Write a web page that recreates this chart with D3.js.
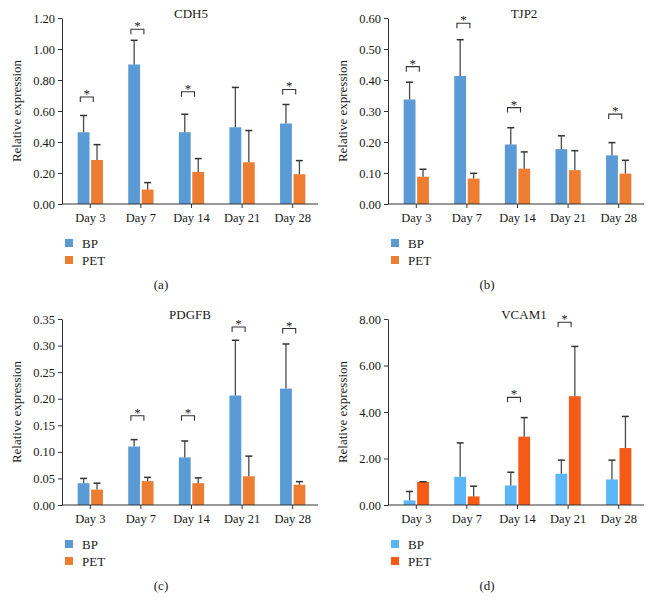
<!DOCTYPE html>
<html><head><meta charset="utf-8">
<script src="https://cdn.jsdelivr.net/npm/d3@7"></script>
<style>
body{margin:0;background:#fff}
svg text{font-family:"Liberation Serif","Times New Roman",serif;fill:#1a1a1a}
</style>
</head><body>
<svg id="chart" width="652" height="614"></svg>
<script>
// ---------- data ----------
const days = ["Day 3", "Day 7", "Day 14", "Day 21", "Day 28"];
const groups = ["BP", "PET"];

const cdh5BP    = [0.463, 0.900, 0.463, 0.495, 0.519];
const cdh5BPSd  = [0.108, 0.156, 0.116, 0.257, 0.123];
const cdh5PET   = [0.284, 0.093, 0.207, 0.269, 0.192];
const cdh5PETSd = [0.099, 0.045, 0.086, 0.205, 0.088];
const cdh5Sig   = [0.69, 1.127, 0.724, null, 0.739];
const cdh5Ticks = [0, 0.2, 0.4, 0.6, 0.8, 1.0, 1.2];

const tjp2BP    = [0.337, 0.413, 0.192, 0.177, 0.157];
const tjp2BPSd  = [0.056, 0.117, 0.054, 0.043, 0.041];
const tjp2PET   = [0.088, 0.082, 0.114, 0.109, 0.098];
const tjp2PETSd = [0.024, 0.017, 0.054, 0.063, 0.043];
const tjp2Sig   = [0.443, 0.583, 0.311, null, 0.290];
const tjp2Ticks = [0, 0.1, 0.2, 0.3, 0.4, 0.5, 0.6];

const pdgfbBP    = [0.041, 0.110, 0.0895, 0.206, 0.219];
const pdgfbBPSd  = [0.009, 0.013, 0.031, 0.104, 0.084];
const pdgfbPET   = [0.029, 0.045, 0.041, 0.054, 0.038];
const pdgfbPETSd = [0.012, 0.007, 0.010, 0.038, 0.006];
const pdgfbSig   = [null, 0.168, 0.168, 0.335, 0.332];
const pdgfbTicks = [0, 0.05, 0.10, 0.15, 0.20, 0.25, 0.30, 0.35];

const vcam1BP    = [0.20, 1.21, 0.84, 1.34, 1.10];
const vcam1BPSd  = [0.38, 1.46, 0.57, 0.59, 0.83];
const vcam1PET   = [0.99, 0.37, 2.94, 4.68, 2.45];
const vcam1PETSd = [0.01, 0.44, 0.82, 2.14, 1.36];
const vcam1Sig   = [null, null, 4.63, 7.86, null];
const vcam1Ticks = [0, 2, 4, 6, 8];

const colorsStd = ["#5B9BD5", "#ED7D31"];
const colorsVcam = ["#5AB6F6", "#F65A17"];

const panels = [
  {title: "CDH5", tag: "(a)", bp: cdh5BP, bpSd: cdh5BPSd, pet: cdh5PET, petSd: cdh5PETSd, sig: cdh5Sig, ticks: cdh5Ticks, fmt: ".2f", colors: colorsStd, ox: 0, oy: 0, tx: 191},
  {title: "TJP2", tag: "(b)", bp: tjp2BP, bpSd: tjp2BPSd, pet: tjp2PET, petSd: tjp2PETSd, sig: tjp2Sig, ticks: tjp2Ticks, fmt: ".2f", colors: colorsStd, ox: 326, oy: 0, tx: 198},
  {title: "PDGFB", tag: "(c)", bp: pdgfbBP, bpSd: pdgfbBPSd, pet: pdgfbPET, petSd: pdgfbPETSd, sig: pdgfbSig, ticks: pdgfbTicks, fmt: ".2f", colors: colorsStd, ox: 0, oy: 301, tx: 190},
  {title: "VCAM1", tag: "(d)", bp: vcam1BP, bpSd: vcam1BPSd, pet: vcam1PET, petSd: vcam1PETSd, sig: vcam1Sig, ticks: vcam1Ticks, fmt: ".2f", colors: colorsVcam, ox: 326, oy: 301, tx: 198}
];

// ---------- layout ----------
const L = {axisX: 62, x0: 65, x1: 318, top: 18, bottom: 204};
const svg = d3.select("#chart");
const FS = 12.5;

panels.forEach(p => {
  const g = svg.append("g").attr("transform", `translate(${p.ox},${p.oy})`);
  const x = d3.scaleBand().domain(days).range([L.x0, L.x1]).paddingInner(0.5).paddingOuter(0.25);
  const xs = d3.scaleBand().domain(groups).range([0, x.bandwidth()]).paddingInner(0.12);
  const ymax = p.ticks[p.ticks.length - 1];
  const y = d3.scaleLinear().domain([0, ymax]).range([L.bottom, L.top]);
  const color = d3.scaleOrdinal().domain(groups).range(p.colors);

  // y axis
  const ya = g.append("g").attr("transform", `translate(${L.axisX},0)`)
    .call(d3.axisLeft(y).tickValues(p.ticks).tickFormat(d3.format(p.fmt)).tickSize(4).tickSizeOuter(0).tickPadding(3));
  ya.selectAll("text").style("font-size", FS + "px");
  ya.selectAll("line,path").attr("stroke", "#333");

  // bars
  const rows = days.map((d, i) => ({day: d, i,
    vals: [{k: "BP", v: p.bp[i], sd: p.bpSd[i]}, {k: "PET", v: p.pet[i], sd: p.petSd[i]}]}));
  const grp = g.selectAll(".grp").data(rows).join("g").attr("transform", d => `translate(${x(d.day)},0)`);
  grp.selectAll("rect").data(d => d.vals).join("rect")
    .attr("x", d => xs(d.k)).attr("width", xs.bandwidth())
    .attr("y", d => y(d.v)).attr("height", d => y(0) - y(d.v))
    .attr("fill", d => color(d.k));
  // error bars (upper only)
  const eb = grp.selectAll(".eb").data(d => d.vals).join("g");
  eb.append("line")
    .attr("x1", d => xs(d.k) + xs.bandwidth() / 2).attr("x2", d => xs(d.k) + xs.bandwidth() / 2)
    .attr("y1", d => y(d.v)).attr("y2", d => y(d.v + d.sd))
    .attr("stroke", "#4a4a4a").attr("stroke-width", 1.3);
  eb.append("line")
    .attr("x1", d => xs(d.k) + xs.bandwidth() / 2 - 3.5).attr("x2", d => xs(d.k) + xs.bandwidth() / 2 + 3.5)
    .attr("y1", d => y(d.v + d.sd)).attr("y2", d => y(d.v + d.sd))
    .attr("stroke", "#333").attr("stroke-width", 1.5);

  // significance brackets
  days.forEach((d, i) => {
    const s = p.sig[i];
    if (s == null) return;
    const cx = x(d) + x.bandwidth() / 2 - 3.5;
    const yy = y(s);
    g.append("path")
      .attr("d", `M${cx - 6.5},${yy + 5}V${yy}H${cx + 6.5}V${yy + 5}`)
      .attr("fill", "none").attr("stroke", "#333").attr("stroke-width", 1.1);
    g.append("text").attr("x", cx).attr("y", yy + 1)
      .attr("text-anchor", "middle").style("font-size", "13px").text("*");
  });

  // x axis
  const xa = g.append("g").attr("transform", `translate(0,${L.bottom})`)
    .call(d3.axisBottom(x).tickSize(4).tickSizeOuter(0).tickPadding(5));
  xa.select(".domain").remove();
  xa.selectAll("line").attr("stroke", "#333");
  xa.selectAll("text").style("font-size", FS + "px");
  g.append("line").attr("x1", L.axisX).attr("x2", L.x1).attr("y1", L.bottom).attr("y2", L.bottom)
    .attr("stroke", "#333");

  // title
  g.append("text").attr("x", p.tx).attr("y", L.top).attr("text-anchor", "middle")
    .style("font-size", "13px").text(p.title);

  // y label
  g.append("text").attr("transform", `translate(21,${(L.top + L.bottom) / 2}) rotate(-90)`)
    .attr("text-anchor", "middle").style("font-size", "13px").text("Relative expression");

  // legend
  const lg = g.append("g").attr("transform", "translate(65,239)");
  groups.forEach((k, j) => {
    lg.append("rect").attr("x", 0).attr("y", j * 17).attr("width", 8).attr("height", 8).attr("fill", color(k));
    lg.append("text").attr("x", 17).attr("y", j * 17 + 8.5).style("font-size", "13px").text(k);
  });

  // panel tag
  g.append("text").attr("x", 161).attr("y", 289).attr("text-anchor", "middle")
    .style("font-size", "13px").text(p.tag);
});
</script>
</body></html>
